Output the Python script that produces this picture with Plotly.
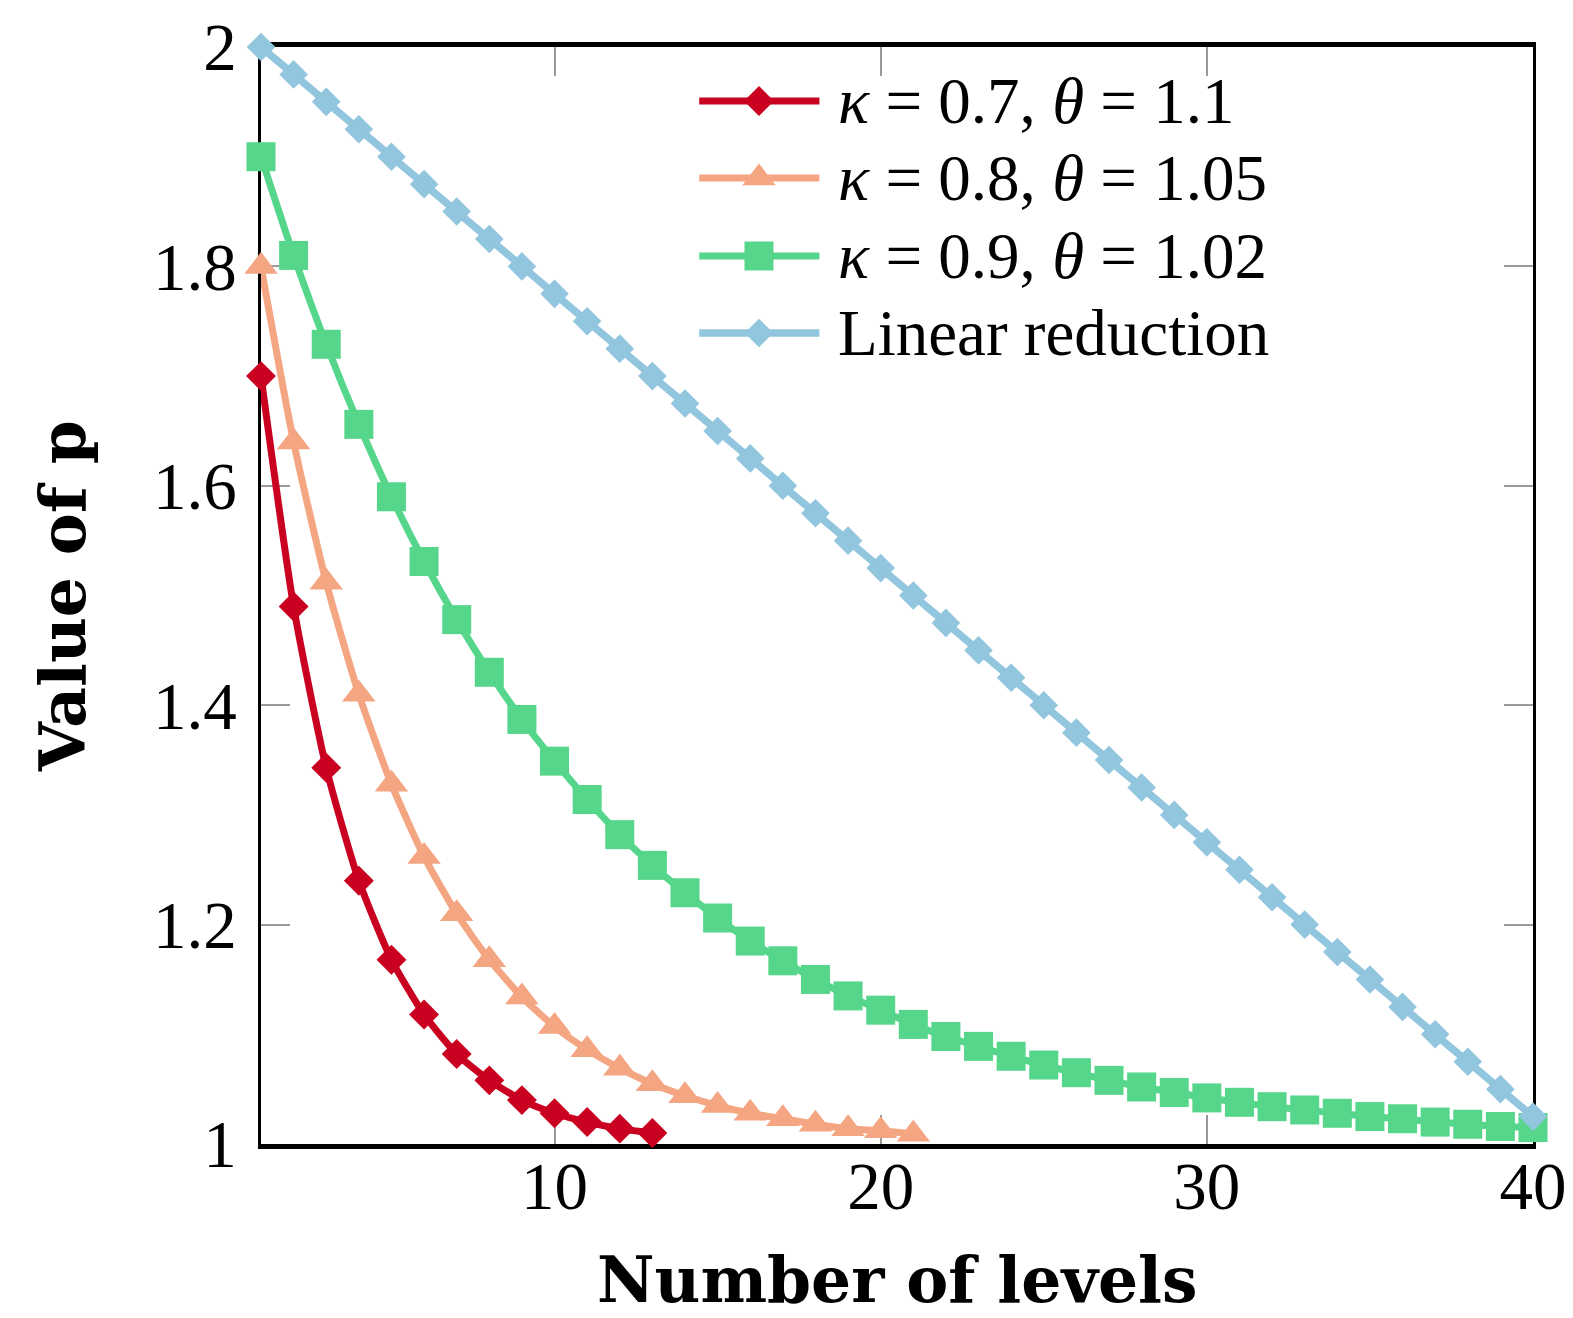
import plotly.graph_objects as go

# ---- data -------------------------------------------------------------
levels_k07 = list(range(1, 14))
p_k07 = [1.700, 1.490, 1.343, 1.240, 1.168, 1.118, 1.082, 1.058, 1.040,
         1.028, 1.020, 1.014, 1.010]

levels_k08 = list(range(1, 22))
p_k08 = [1.800, 1.640, 1.512, 1.410, 1.328, 1.262, 1.210, 1.168, 1.134,
         1.107, 1.086, 1.069, 1.055, 1.044, 1.035, 1.028, 1.023, 1.018,
         1.014, 1.012, 1.009]

levels_k09 = list(range(1, 41))
p_k09 = [1.900, 1.810, 1.729, 1.656, 1.590, 1.531, 1.478, 1.430, 1.387,
         1.349, 1.314, 1.282, 1.254, 1.229, 1.206, 1.185, 1.167, 1.150,
         1.135, 1.122, 1.109, 1.098, 1.089, 1.080, 1.072, 1.065, 1.058,
         1.052, 1.047, 1.042, 1.038, 1.034, 1.031, 1.028, 1.025, 1.023,
         1.020, 1.018, 1.016, 1.015]

levels_linear = list(range(1, 41))
p_linear = [2.000, 1.975, 1.950, 1.925, 1.900, 1.875, 1.850, 1.825, 1.800,
            1.775, 1.750, 1.725, 1.700, 1.675, 1.650, 1.625, 1.600, 1.575,
            1.550, 1.525, 1.500, 1.475, 1.450, 1.425, 1.400, 1.375, 1.350,
            1.325, 1.300, 1.275, 1.250, 1.225, 1.200, 1.175, 1.150, 1.125,
            1.100, 1.075, 1.050, 1.025]

series_labels = [
    "<i>κ</i> = 0.7, <i>θ</i> = 1.1",
    "<i>κ</i> = 0.8, <i>θ</i> = 1.05",
    "<i>κ</i> = 0.9, <i>θ</i> = 1.02",
    "Linear reduction",
]

x_title = "Number of levels"
y_title = "Value of p"

x_tick_vals = [10, 20, 30, 40]
x_tick_text = ["10", "20", "30", "40"]
y_tick_vals = [1.0, 1.2, 1.4, 1.6, 1.8, 2.0]
y_tick_text = ["1", "1.2", "1.4", "1.6", "1.8", "2"]

# ---- styles -----------------------------------------------------------
colors = ["#ca0020", "#f4a582", "#55d68b", "#92c5de"]
symbols = ["diamond", "triangle-up", "square", "diamond"]
marker_sizes = [23, 29, 29, 22]
line_widths = [7, 7, 7, 7.5]

TICK_FONT = dict(family="Liberation Serif", size=67, color="black")
TITLE_FONT = dict(family="DejaVu Serif", size=63, color="black", weight="bold")
LEGEND_FONT = dict(family="Liberation Serif", size=65, color="black")

fig = go.Figure()

all_series = [
    (levels_k07, p_k07),
    (levels_k08, p_k08),
    (levels_k09, p_k09),
    (levels_linear, p_linear),
]

for i, (xs, ys) in enumerate(all_series):
    fig.add_trace(go.Scatter(
        x=xs, y=ys,
        mode="lines+markers",
        name=series_labels[i],
        line=dict(color=colors[i], width=line_widths[i], shape="spline", smoothing=0.6),
        marker=dict(symbol=symbols[i], size=marker_sizes[i], color=colors[i]),
        cliponaxis=False,
        showlegend=False,
    ))

# ---- legend (drawn on a hidden 0..1 overlay axis pair) ----------------
key_x0, key_xm, key_x1 = 0.3445, 0.3915, 0.439
text_x = 0.452
row_y = [0.9508, 0.8806, 0.8095, 0.7393]

for i in range(4):
    fig.add_trace(go.Scatter(
        x=[key_x0, key_x1], y=[row_y[i], row_y[i]],
        xaxis="x2", yaxis="y2", mode="lines",
        line=dict(color=colors[i], width=line_widths[i]),
        hoverinfo="skip", showlegend=False, cliponaxis=False,
    ))
    fig.add_trace(go.Scatter(
        x=[key_xm], y=[row_y[i]],
        xaxis="x2", yaxis="y2", mode="markers",
        marker=dict(symbol=symbols[i], size=marker_sizes[i], color=colors[i]),
        hoverinfo="skip", showlegend=False, cliponaxis=False,
    ))
    fig.add_annotation(
        x=text_x, y=row_y[i], xref="paper", yref="paper",
        text=series_labels[i], showarrow=False,
        xanchor="left", yanchor="middle", font=LEGEND_FONT,
    )

# x-axis title placed as an annotation so it can sit close to the page edge
fig.add_annotation(
    x=0.5, y=0, xref="paper", yref="paper", yshift=-97,
    text=x_title, showarrow=False, xanchor="center", yanchor="top",
    font=TITLE_FONT,
)

axis_common = dict(
    ticks="inside", ticklen=29, tickwidth=1.5, tickcolor="#9a9a9a",
    showgrid=False, zeroline=False, showline=True, linecolor="black",
    mirror="ticks", layer="below traces", tickfont=TICK_FONT,
    automargin=False,
)

fig.update_layout(
    width=1573, height=1318,
    margin=dict(l=261, r=40, t=47, b=174),
    paper_bgcolor="white", plot_bgcolor="white",
    xaxis=dict(
        range=[1, 40], tickvals=x_tick_vals, ticktext=x_tick_text,
        linewidth=5, ticklabelstandoff=-20,
        **axis_common,
    ),
    yaxis=dict(
        range=[1, 2], tickvals=y_tick_vals, ticktext=y_tick_text,
        linewidth=2.5, ticklabelstandoff=8,
        title=dict(text=y_title, font=TITLE_FONT, standoff=48),
        **axis_common,
    ),
    xaxis2=dict(range=[0, 1], overlaying="x", anchor="y2", visible=False),
    yaxis2=dict(range=[0, 1], overlaying="y", anchor="x2", visible=False),
    showlegend=False,
)

fig.write_html("out.html")
